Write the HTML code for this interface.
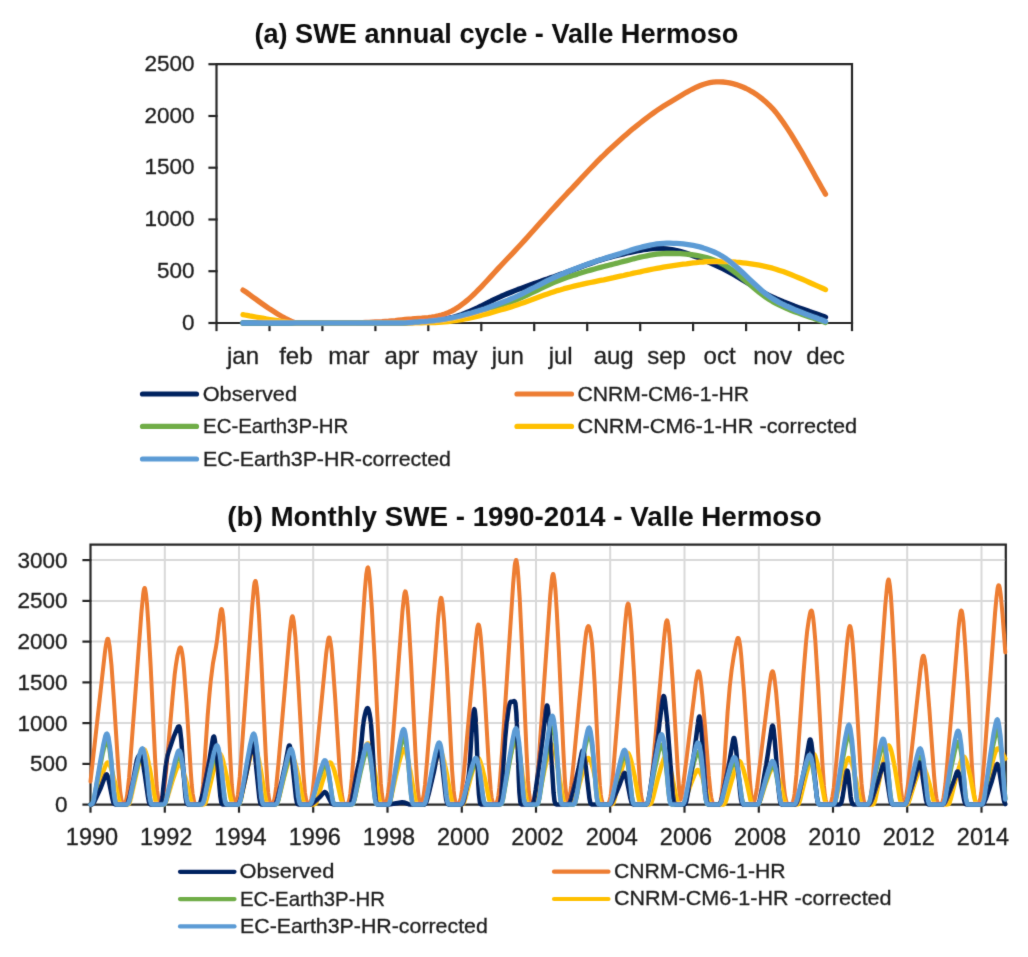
<!DOCTYPE html>
<html><head><meta charset="utf-8"><style>
html,body{margin:0;padding:0;background:#fff;}
svg{display:block;font-family:"Liberation Sans",sans-serif;}
text{stroke:#1e1e1e;stroke-width:0.3px;}
text[font-weight="bold"]{stroke:none;}
</style></head><body>
<svg width="1028" height="957" viewBox="0 0 1028 957">
<defs><filter id="bl" filterUnits="userSpaceOnUse" x="0" y="0" width="1028" height="957"><feConvolveMatrix order="3" kernelMatrix="0.01134 0.08382 0.01134 0.08382 0.61935 0.08382 0.01134 0.08382 0.01134" edgeMode="duplicate"/></filter></defs>
<rect width="1028" height="957" fill="#fff"/>
<g filter="url(#bl)">
<text x="496.4" y="42.7" font-size="27" font-weight="bold" fill="#0d0d0d" text-anchor="middle" textLength="484" lengthAdjust="spacingAndGlyphs">(a) SWE annual cycle - Valle Hermoso</text>
<g stroke="#262626" stroke-width="2.2" fill="none" stroke-linecap="square">
<path d="M216.5,64.2 H852.0 V323.0 H216.5 Z"/>
<path d="M209.5,323.0 H216.5"/>
<path d="M209.5,271.2 H216.5"/>
<path d="M209.5,219.5 H216.5"/>
<path d="M209.5,167.7 H216.5"/>
<path d="M209.5,116.0 H216.5"/>
<path d="M209.5,64.2 H216.5"/>
<path d="M216.5,323.0 V330.0"/>
<path d="M269.5,323.0 V330.0"/>
<path d="M322.4,323.0 V330.0"/>
<path d="M375.4,323.0 V330.0"/>
<path d="M428.3,323.0 V330.0"/>
<path d="M481.3,323.0 V330.0"/>
<path d="M534.2,323.0 V330.0"/>
<path d="M587.2,323.0 V330.0"/>
<path d="M640.2,323.0 V330.0"/>
<path d="M693.1,323.0 V330.0"/>
<path d="M746.1,323.0 V330.0"/>
<path d="M799.0,323.0 V330.0"/>
<path d="M852.0,323.0 V330.0"/>
</g>
<g font-size="22.5" fill="#1e1e1e" text-anchor="end">
<text x="194.5" y="329.6">0</text>
<text x="194.5" y="277.8">500</text>
<text x="194.5" y="226.1">1000</text>
<text x="194.5" y="174.3">1500</text>
<text x="194.5" y="122.6">2000</text>
<text x="194.5" y="70.8">2500</text>
</g>
<g font-size="24" fill="#1e1e1e" text-anchor="middle">
<text x="243.0" y="364.2">jan</text>
<text x="295.9" y="364.2">feb</text>
<text x="348.9" y="364.2">mar</text>
<text x="401.9" y="364.2">apr</text>
<text x="454.8" y="364.2">may</text>
<text x="507.8" y="364.2">jun</text>
<text x="560.7" y="364.2">jul</text>
<text x="613.7" y="364.2">aug</text>
<text x="666.6" y="364.2">sep</text>
<text x="719.6" y="364.2">oct</text>
<text x="772.6" y="364.2">nov</text>
<text x="825.5" y="364.2">dec</text>
</g>
<g fill="none" stroke-width="5.3" stroke-linecap="round" stroke-linejoin="round">
<path stroke="#002060" d="M243.0,323.0 244.8,323.0 247.1,323.0 249.6,323.0 252.5,323.0 255.6,323.0 259.0,323.0 262.5,323.0 266.1,323.0 269.9,323.0 273.8,323.0 277.6,323.0 281.5,323.0 285.3,323.0 289.0,323.0 292.5,323.0 295.9,323.0 299.2,323.0 302.6,323.0 305.9,323.0 309.2,323.0 312.5,323.0 315.8,323.0 319.1,323.0 322.4,323.0 325.7,323.0 329.0,323.0 332.3,323.0 335.7,323.0 339.0,323.0 342.3,323.0 345.6,323.0 348.9,323.0 352.2,323.0 355.5,323.0 358.8,323.0 362.1,323.0 365.4,323.0 368.8,323.0 372.1,323.0 375.4,323.0 378.7,323.0 382.0,323.0 385.3,323.0 388.6,323.0 391.9,323.0 395.2,323.0 398.5,323.0 401.9,323.0 405.2,322.8 408.5,322.6 411.8,322.5 415.1,322.3 418.4,322.1 421.7,321.9 425.0,321.6 428.3,321.4 431.6,321.0 435.0,320.6 438.3,320.2 441.6,319.7 444.9,319.1 448.2,318.4 451.5,317.7 454.8,316.8 458.1,315.8 461.4,314.7 464.7,313.4 468.1,312.1 471.4,310.6 474.7,309.1 478.0,307.6 481.3,306.0 484.6,304.3 487.9,302.7 491.2,301.0 494.5,299.4 497.8,297.9 501.2,296.3 504.5,294.9 507.8,293.5 511.1,292.2 514.4,290.9 517.7,289.6 521.0,288.4 524.3,287.2 527.6,286.0 530.9,284.8 534.3,283.6 537.6,282.4 540.9,281.3 544.2,280.1 547.5,279.0 550.8,277.8 554.1,276.7 557.4,275.5 560.7,274.3 564.0,273.2 567.3,272.0 570.7,270.7 574.0,269.5 577.3,268.2 580.6,267.0 583.9,265.8 587.2,264.6 590.5,263.4 593.8,262.2 597.1,261.1 600.4,260.0 603.8,258.9 607.1,258.0 610.4,257.1 613.7,256.2 617.0,255.4 620.3,254.6 623.6,253.8 626.9,253.0 630.2,252.3 633.5,251.6 636.9,250.9 640.2,250.3 643.5,249.7 646.8,249.3 650.1,248.9 653.4,248.7 656.7,248.5 660.0,248.5 663.3,248.6 666.6,248.9 670.0,249.3 673.3,249.9 676.6,250.5 679.9,251.4 683.2,252.3 686.5,253.3 689.8,254.4 693.1,255.7 696.4,256.9 699.7,258.3 703.1,259.7 706.4,261.1 709.7,262.6 713.0,264.1 716.3,265.6 719.6,267.1 722.9,268.7 726.2,270.4 729.5,272.1 732.8,274.0 736.2,275.9 739.5,277.9 742.8,280.0 746.1,282.0 749.4,284.0 752.7,286.1 756.0,288.1 759.3,290.0 762.6,291.9 765.9,293.8 769.3,295.5 772.6,297.1 776.0,298.7 779.5,300.2 783.2,301.8 787.0,303.3 790.9,304.8 794.7,306.3 798.6,307.7 802.4,309.0 806.0,310.3 809.5,311.6 812.9,312.7 816.0,313.8 818.9,314.8 821.4,315.7 823.7,316.5 825.5,317.2"/>
<path stroke="#ED7D31" d="M243.0,290.1 244.8,291.3 247.1,292.8 249.6,294.7 252.5,296.8 255.6,299.0 259.0,301.5 262.5,304.0 266.1,306.5 269.9,309.1 273.8,311.6 277.6,314.0 281.5,316.3 285.3,318.4 289.0,320.2 292.5,321.8 295.9,323.0 299.2,323.0 302.6,323.0 305.9,323.0 309.2,323.0 312.5,323.0 315.8,323.0 319.1,323.0 322.4,323.0 325.7,323.0 329.0,323.0 332.3,323.0 335.7,323.0 339.0,323.0 342.3,323.0 345.6,323.0 348.9,323.0 352.2,322.9 355.5,322.8 358.8,322.7 362.1,322.6 365.4,322.5 368.8,322.4 372.1,322.2 375.4,322.0 378.7,321.9 382.0,321.7 385.3,321.4 388.6,321.2 391.9,320.9 395.2,320.6 398.5,320.2 401.9,319.8 405.2,319.4 408.5,319.1 411.8,318.9 415.1,318.6 418.4,318.4 421.7,318.2 425.0,317.9 428.3,317.6 431.6,317.1 435.0,316.5 438.3,315.8 441.6,315.0 444.9,313.9 448.2,312.6 451.5,311.1 454.8,309.3 458.1,307.3 461.4,304.9 464.7,302.4 468.1,299.6 471.4,296.6 474.7,293.5 478.0,290.2 481.3,286.8 484.6,283.3 487.9,279.7 491.2,276.1 494.5,272.5 497.8,268.9 501.2,265.3 504.5,261.8 507.8,258.3 511.1,254.9 514.4,251.4 517.7,247.8 521.0,244.2 524.3,240.6 527.6,236.9 530.9,233.2 534.3,229.5 537.6,225.8 540.9,222.1 544.2,218.4 547.5,214.8 550.8,211.1 554.1,207.5 557.4,203.9 560.7,200.3 564.0,196.8 567.3,193.2 570.7,189.7 574.0,186.1 577.3,182.6 580.6,179.0 583.9,175.5 587.2,172.0 590.5,168.5 593.8,165.1 597.1,161.7 600.4,158.3 603.8,155.1 607.1,151.8 610.4,148.7 613.7,145.7 617.0,142.7 620.3,139.7 623.6,136.8 626.9,133.9 630.2,131.1 633.5,128.3 636.9,125.6 640.2,123.0 643.5,120.4 646.8,117.8 650.1,115.4 653.4,113.0 656.7,110.7 660.0,108.4 663.3,106.3 666.6,104.3 670.0,102.2 673.3,100.2 676.6,98.2 679.9,96.2 683.2,94.2 686.5,92.3 689.8,90.5 693.1,88.8 696.4,87.2 699.7,85.8 703.1,84.5 706.4,83.5 709.7,82.7 713.0,82.1 716.3,81.8 719.6,81.8 722.9,82.0 726.2,82.4 729.5,82.9 732.8,83.7 736.2,84.6 739.5,85.7 742.8,87.0 746.1,88.5 749.4,90.2 752.7,92.1 756.0,94.2 759.3,96.6 762.6,99.2 765.9,102.1 769.3,105.2 772.6,108.6 776.0,112.5 779.5,117.1 783.2,122.2 787.0,127.9 790.9,133.9 794.7,140.1 798.6,146.6 802.4,153.0 806.0,159.5 809.5,165.7 812.9,171.7 816.0,177.4 818.9,182.5 821.4,187.1 823.7,191.0 825.5,194.1"/>
<path stroke="#70AD47" d="M243.0,323.0 244.8,323.0 247.1,323.0 249.6,323.0 252.5,323.0 255.6,323.0 259.0,323.0 262.5,323.0 266.1,323.0 269.9,323.0 273.8,323.0 277.6,323.0 281.5,323.0 285.3,323.0 289.0,323.0 292.5,323.0 295.9,323.0 299.2,323.0 302.6,323.0 305.9,323.0 309.2,323.0 312.5,323.0 315.8,323.0 319.1,323.0 322.4,323.0 325.7,323.0 329.0,323.0 332.3,323.0 335.7,323.0 339.0,323.0 342.3,323.0 345.6,323.0 348.9,323.0 352.2,323.0 355.5,323.0 358.8,323.0 362.1,323.0 365.4,323.0 368.8,323.0 372.1,323.0 375.4,323.0 378.7,323.0 382.0,323.0 385.3,323.0 388.6,323.0 391.9,323.0 395.2,323.0 398.5,323.0 401.9,323.0 405.2,322.9 408.5,322.7 411.8,322.6 415.1,322.4 418.4,322.2 421.7,322.0 425.0,321.8 428.3,321.6 431.6,321.3 435.0,321.1 438.3,320.7 441.6,320.3 444.9,319.9 448.2,319.5 451.5,318.9 454.8,318.3 458.1,317.7 461.4,317.0 464.7,316.3 468.1,315.5 471.4,314.7 474.7,313.8 478.0,313.0 481.3,312.0 484.6,311.1 487.9,310.0 491.2,309.0 494.5,307.9 497.8,306.8 501.2,305.7 504.5,304.5 507.8,303.3 511.1,302.1 514.4,300.7 517.7,299.3 521.0,297.9 524.3,296.3 527.6,294.8 530.9,293.2 534.3,291.6 537.6,290.0 540.9,288.4 544.2,286.8 547.5,285.3 550.8,283.8 554.1,282.4 557.4,281.0 560.7,279.7 564.0,278.5 567.3,277.3 570.7,276.2 574.0,275.1 577.3,274.1 580.6,273.0 583.9,272.0 587.2,271.0 590.5,270.1 593.8,269.2 597.1,268.3 600.4,267.4 603.8,266.5 607.1,265.7 610.4,264.8 613.7,264.0 617.0,263.2 620.3,262.3 623.6,261.4 626.9,260.6 630.2,259.7 633.5,258.8 636.9,258.0 640.2,257.2 643.5,256.5 646.8,255.8 650.1,255.2 653.4,254.7 656.7,254.2 660.0,253.9 663.3,253.7 666.6,253.5 670.0,253.5 673.3,253.5 676.6,253.6 679.9,253.7 683.2,253.9 686.5,254.1 689.8,254.5 693.1,254.9 696.4,255.4 699.7,256.0 703.1,256.8 706.4,257.6 709.7,258.6 713.0,259.7 716.3,261.0 719.6,262.4 722.9,264.1 726.2,266.0 729.5,268.2 732.8,270.5 736.2,273.0 739.5,275.7 742.8,278.4 746.1,281.3 749.4,284.1 752.7,286.9 756.0,289.7 759.3,292.4 762.6,294.9 765.9,297.3 769.3,299.6 772.6,301.6 776.0,303.4 779.5,305.2 783.2,306.9 787.0,308.6 790.9,310.2 794.7,311.7 798.6,313.1 802.4,314.5 806.0,315.8 809.5,317.0 812.9,318.1 816.0,319.2 818.9,320.1 821.4,321.0 823.7,321.8 825.5,322.5"/>
<path stroke="#FFC000" d="M243.0,314.7 244.8,315.0 247.1,315.4 249.6,315.9 252.5,316.4 255.6,317.0 259.0,317.6 262.5,318.2 266.1,318.9 269.9,319.5 273.8,320.1 277.6,320.7 281.5,321.3 285.3,321.8 289.0,322.3 292.5,322.7 295.9,323.0 299.2,323.0 302.6,323.0 305.9,323.0 309.2,323.0 312.5,323.0 315.8,323.0 319.1,323.0 322.4,323.0 325.7,323.0 329.0,323.0 332.3,323.0 335.7,323.0 339.0,323.0 342.3,323.0 345.6,323.0 348.9,323.0 352.2,323.0 355.5,323.0 358.8,323.0 362.1,323.0 365.4,323.0 368.8,323.0 372.1,323.0 375.4,323.0 378.7,323.0 382.0,323.0 385.3,323.0 388.6,323.0 391.9,323.0 395.2,323.0 398.5,323.0 401.9,323.0 405.2,322.9 408.5,322.9 411.8,322.9 415.1,322.8 418.4,322.8 421.7,322.8 425.0,322.7 428.3,322.7 431.6,322.6 435.0,322.5 438.3,322.3 441.6,322.1 444.9,321.8 448.2,321.5 451.5,321.2 454.8,320.7 458.1,320.2 461.4,319.7 464.7,319.0 468.1,318.4 471.4,317.7 474.7,316.9 478.0,316.1 481.3,315.3 484.6,314.4 487.9,313.6 491.2,312.6 494.5,311.7 497.8,310.8 501.2,309.8 504.5,308.9 507.8,307.9 511.1,306.9 514.4,305.8 517.7,304.7 521.0,303.6 524.3,302.4 527.6,301.2 530.9,300.0 534.3,298.7 537.6,297.5 540.9,296.3 544.2,295.1 547.5,293.9 550.8,292.8 554.1,291.7 557.4,290.6 560.7,289.7 564.0,288.7 567.3,287.9 570.7,287.0 574.0,286.2 577.3,285.4 580.6,284.7 583.9,283.9 587.2,283.2 590.5,282.5 593.8,281.8 597.1,281.1 600.4,280.4 603.8,279.8 607.1,279.1 610.4,278.4 613.7,277.7 617.0,276.9 620.3,276.2 623.6,275.5 626.9,274.7 630.2,274.0 633.5,273.2 636.9,272.5 640.2,271.8 643.5,271.0 646.8,270.3 650.1,269.7 653.4,269.0 656.7,268.4 660.0,267.8 663.3,267.2 666.6,266.7 670.0,266.2 673.3,265.7 676.6,265.2 679.9,264.7 683.2,264.2 686.5,263.8 689.8,263.3 693.1,262.9 696.4,262.6 699.7,262.2 703.1,262.0 706.4,261.7 709.7,261.6 713.0,261.4 716.3,261.4 719.6,261.4 722.9,261.5 726.2,261.6 729.5,261.7 732.8,261.9 736.2,262.2 739.5,262.4 742.8,262.8 746.1,263.2 749.4,263.6 752.7,264.1 756.0,264.6 759.3,265.2 762.6,265.9 765.9,266.6 769.3,267.4 772.6,268.2 776.0,269.2 779.5,270.4 783.2,271.6 787.0,273.0 790.9,274.5 794.7,276.1 798.6,277.7 802.4,279.3 806.0,280.9 809.5,282.5 812.9,284.0 816.0,285.4 818.9,286.7 821.4,287.8 823.7,288.8 825.5,289.6"/>
<path stroke="#5B9BD5" d="M243.0,323.0 244.8,323.0 247.1,323.0 249.6,323.0 252.5,323.0 255.6,323.0 259.0,323.0 262.5,323.0 266.1,323.0 269.9,323.0 273.8,323.0 277.6,323.0 281.5,323.0 285.3,323.0 289.0,323.0 292.5,323.0 295.9,323.0 299.2,323.0 302.6,323.0 305.9,323.0 309.2,323.0 312.5,323.0 315.8,323.0 319.1,323.0 322.4,323.0 325.7,323.0 329.0,323.0 332.3,323.0 335.7,323.0 339.0,323.0 342.3,323.0 345.6,323.0 348.9,323.0 352.2,323.0 355.5,323.0 358.8,323.0 362.1,323.0 365.4,323.0 368.8,323.0 372.1,323.0 375.4,323.0 378.7,323.0 382.0,323.0 385.3,323.0 388.6,323.0 391.9,323.0 395.2,323.0 398.5,323.0 401.9,323.0 405.2,322.8 408.5,322.6 411.8,322.4 415.1,322.2 418.4,322.0 421.7,321.7 425.0,321.5 428.3,321.2 431.6,320.8 435.0,320.5 438.3,320.0 441.6,319.6 444.9,319.1 448.2,318.5 451.5,317.9 454.8,317.2 458.1,316.5 461.4,315.7 464.7,314.8 468.1,313.9 471.4,313.0 474.7,312.0 478.0,311.0 481.3,310.0 484.6,308.9 487.9,307.7 491.2,306.5 494.5,305.3 497.8,304.1 501.2,302.8 504.5,301.5 507.8,300.2 511.1,298.8 514.4,297.4 517.7,295.9 521.0,294.3 524.3,292.6 527.6,290.9 530.9,289.2 534.3,287.5 537.6,285.8 540.9,284.1 544.2,282.4 547.5,280.7 550.8,279.1 554.1,277.5 557.4,276.0 560.7,274.6 564.0,273.2 567.3,271.8 570.7,270.5 574.0,269.2 577.3,267.9 580.6,266.7 583.9,265.4 587.2,264.3 590.5,263.1 593.8,261.9 597.1,260.8 600.4,259.7 603.8,258.7 607.1,257.6 610.4,256.6 613.7,255.6 617.0,254.6 620.3,253.6 623.6,252.5 626.9,251.5 630.2,250.4 633.5,249.4 636.9,248.4 640.2,247.5 643.5,246.6 646.8,245.8 650.1,245.1 653.4,244.5 656.7,243.9 660.0,243.6 663.3,243.3 666.6,243.2 670.0,243.2 673.3,243.3 676.6,243.4 679.9,243.6 683.2,243.9 686.5,244.3 689.8,244.8 693.1,245.4 696.4,246.1 699.7,246.9 703.1,247.9 706.4,249.0 709.7,250.2 713.0,251.5 716.3,253.0 719.6,254.7 722.9,256.6 726.2,258.8 729.5,261.2 732.8,263.9 736.2,266.7 739.5,269.7 742.8,272.8 746.1,275.9 749.4,279.1 752.7,282.2 756.0,285.3 759.3,288.3 762.6,291.2 765.9,293.9 769.3,296.3 772.6,298.6 776.0,300.6 779.5,302.6 783.2,304.5 787.0,306.3 790.9,308.0 794.7,309.7 798.6,311.3 802.4,312.8 806.0,314.2 809.5,315.5 812.9,316.7 816.0,317.8 818.9,318.9 821.4,319.8 823.7,320.7 825.5,321.4"/>
</g>
<path d="M142.5,394.0 H196.5" stroke="#002060" stroke-width="5.2" stroke-linecap="round"/>
<text x="202.70" y="401.00" font-size="21.00" fill="#1e1e1e" textLength="94.31" lengthAdjust="spacingAndGlyphs">Observed</text>
<path d="M142.5,426.4 H196.5" stroke="#70AD47" stroke-width="5.2" stroke-linecap="round"/>
<text x="203.00" y="433.00" font-size="21.00" fill="#1e1e1e" textLength="145.36" lengthAdjust="spacingAndGlyphs">EC-Earth3P-HR</text>
<path d="M142.5,459.0 H196.5" stroke="#5B9BD5" stroke-width="5.2" stroke-linecap="round"/>
<text x="203.00" y="465.60" font-size="21.00" fill="#1e1e1e" textLength="247.89" lengthAdjust="spacingAndGlyphs">EC-Earth3P-HR-corrected</text>
<path d="M517.0,394.0 H571.5" stroke="#ED7D31" stroke-width="5.2" stroke-linecap="round"/>
<text x="577.50" y="401.20" font-size="21.00" fill="#1e1e1e" textLength="171.51" lengthAdjust="spacingAndGlyphs">CNRM-CM6-1-HR</text>
<path d="M517.0,426.4 H571.5" stroke="#FFC000" stroke-width="5.2" stroke-linecap="round"/>
<text x="577.50" y="433.40" font-size="21.00" fill="#1e1e1e" textLength="279.60" lengthAdjust="spacingAndGlyphs">CNRM-CM6-1-HR -corrected</text>
<text x="524.5" y="525.5" font-size="27" font-weight="bold" fill="#0d0d0d" text-anchor="middle" textLength="594.5" lengthAdjust="spacingAndGlyphs">(b) Monthly SWE - 1990-2014 - Valle Hermoso</text>
<g stroke="#d9d9d9" stroke-width="2" fill="none">
<path d="M90.5,763.9 H1005.8"/>
<path d="M90.5,723.1 H1005.8"/>
<path d="M90.5,682.4 H1005.8"/>
<path d="M90.5,641.6 H1005.8"/>
<path d="M90.5,600.9 H1005.8"/>
<path d="M90.5,560.1 H1005.8"/>
<path d="M164.8,544.6 V804.6"/>
<path d="M239.0,544.6 V804.6"/>
<path d="M313.2,544.6 V804.6"/>
<path d="M387.5,544.6 V804.6"/>
<path d="M461.8,544.6 V804.6"/>
<path d="M536.0,544.6 V804.6"/>
<path d="M610.2,544.6 V804.6"/>
<path d="M684.5,544.6 V804.6"/>
<path d="M758.8,544.6 V804.6"/>
<path d="M833.0,544.6 V804.6"/>
<path d="M907.2,544.6 V804.6"/>
<path d="M981.5,544.6 V804.6"/>
</g>
<g stroke="#262626" stroke-width="2.2" fill="none" stroke-linecap="square">
<path d="M90.5,544.6 H1005.8 V804.6 H90.5 Z"/>
<path d="M83.5,804.6 H90.5"/>
<path d="M83.5,763.9 H90.5"/>
<path d="M83.5,723.1 H90.5"/>
<path d="M83.5,682.4 H90.5"/>
<path d="M83.5,641.6 H90.5"/>
<path d="M83.5,600.9 H90.5"/>
<path d="M83.5,560.1 H90.5"/>
<path d="M90.5,804.6 V811.6"/>
<path d="M164.8,804.6 V811.6"/>
<path d="M239.0,804.6 V811.6"/>
<path d="M313.2,804.6 V811.6"/>
<path d="M387.5,804.6 V811.6"/>
<path d="M461.8,804.6 V811.6"/>
<path d="M536.0,804.6 V811.6"/>
<path d="M610.2,804.6 V811.6"/>
<path d="M684.5,804.6 V811.6"/>
<path d="M758.8,804.6 V811.6"/>
<path d="M833.0,804.6 V811.6"/>
<path d="M907.2,804.6 V811.6"/>
<path d="M981.5,804.6 V811.6"/>
</g>
<defs><clipPath id="cb"><rect x="85.5" y="539.6" width="925.3" height="270.0"/></clipPath></defs>
<g fill="none" stroke-linecap="round" stroke-linejoin="round" clip-path="url(#cb)">
<path stroke="#ED7D31" stroke-width="4.0" d="M90.5,781.5 104.7,654.3 105.6,647.2 106.5,641.7 107.2,639.5 107.5,638.9 107.8,638.7 108.1,639.0 108.7,640.7 109.6,646.3 111.5,665.4 113.9,699.7 118.3,768.5 120.1,791.1 121.4,799.5 122.0,801.8 122.6,803.2 123.5,804.2 123.8,804.3 124.1,804.1 125.1,803.1 126.0,800.8 126.9,796.5 127.5,792.4 129.1,777.4 141.4,612.6 143.3,593.3 143.9,589.6 144.5,588.1 144.8,588.1 145.1,588.8 146.0,594.1 147.0,603.9 148.2,621.8 150.7,666.9 155.0,757.2 156.5,783.0 157.1,790.4 158.1,797.9 159.0,801.9 159.6,803.3 160.2,804.0 160.8,803.7 161.5,802.8 162.4,800.4 163.3,796.0 164.2,789.6 166.4,768.3 172.6,697.0 174.7,674.5 176.0,664.6 177.5,655.4 179.1,649.3 179.7,647.9 180.3,647.3 180.9,647.8 181.2,648.5 182.1,652.6 183.1,659.6 184.0,669.2 186.5,702.8 190.8,772.2 191.7,784.3 192.6,793.5 193.9,800.7 194.5,802.5 195.4,803.9 196.0,804.3 196.9,804.5 198.8,804.3 199.7,803.6 200.6,801.8 201.3,799.4 201.9,795.9 203.1,784.5 207.7,715.1 209.3,696.1 210.8,680.4 213.0,663.1 215.8,648.2 217.0,640.4 220.1,614.6 221.0,609.9 221.3,609.2 221.6,609.0 221.9,609.4 222.2,610.3 223.2,616.7 224.7,637.7 226.6,674.0 230.3,758.1 231.8,784.8 232.7,794.7 233.7,800.4 234.3,802.5 234.9,803.6 235.2,803.8 236.1,802.5 237.1,799.5 238.0,794.3 239.8,776.5 252.2,606.3 254.0,586.3 254.6,582.6 255.3,581.0 255.6,581.0 255.9,581.7 256.8,587.2 257.7,597.3 259.0,615.9 261.4,662.4 265.8,755.6 267.3,782.3 268.2,792.9 269.1,799.4 270.1,802.7 270.7,803.7 271.6,804.3 272.2,804.0 272.8,803.3 273.5,802.1 274.1,800.3 275.0,795.9 276.2,786.7 278.4,764.2 289.5,634.3 291.1,620.8 291.7,617.6 292.3,616.3 292.6,616.3 292.9,616.9 293.8,621.5 295.4,637.4 298.1,679.5 303.4,773.3 304.9,792.2 305.6,797.0 306.5,801.4 307.4,803.5 308.3,804.3 309.3,803.8 309.9,803.0 310.8,800.8 311.4,798.4 312.7,791.1 315.1,768.7 326.2,653.4 327.8,641.4 328.4,638.6 329.0,637.4 329.3,637.4 329.6,637.9 330.5,642.0 331.5,649.6 332.7,663.5 335.2,698.3 339.8,772.5 340.7,784.6 341.7,793.6 342.9,800.7 343.5,802.5 344.1,803.6 344.7,804.2 345.4,804.4 346.6,804.4 347.5,803.8 348.4,802.3 349.4,799.2 350.3,793.7 351.8,778.7 354.0,749.6 364.8,591.2 366.3,574.0 367.3,568.4 367.6,567.6 367.9,567.4 368.2,567.8 368.8,570.4 369.7,578.2 371.9,608.9 374.7,660.4 379.3,757.4 380.8,783.2 381.8,793.4 382.7,799.6 383.6,802.7 384.2,803.7 384.8,804.1 385.5,803.6 386.1,802.6 386.7,800.9 387.3,798.3 388.2,792.5 389.5,781.2 391.6,754.9 402.4,611.8 404.0,596.5 404.6,592.9 405.2,591.4 405.5,591.5 405.8,592.1 406.8,597.4 407.7,607.0 408.9,624.7 411.1,663.0 415.4,751.9 416.9,779.1 417.6,787.2 418.5,795.9 419.1,799.6 420.0,802.7 420.6,803.7 420.9,803.9 421.9,802.6 422.5,801.0 423.7,795.0 425.0,785.0 427.1,760.3 438.2,617.7 439.8,602.9 440.4,599.4 441.0,597.9 441.3,598.0 441.6,598.6 442.5,603.7 444.1,621.1 446.9,667.4 452.1,770.3 453.7,791.0 454.3,796.2 455.2,801.1 456.1,803.4 457.0,804.2 457.4,804.4 458.0,804.2 458.6,803.7 459.2,802.9 460.1,800.5 460.8,797.9 462.0,790.0 464.5,766.0 475.6,641.9 477.1,629.0 477.7,626.0 478.3,624.6 478.6,624.7 479.0,625.2 479.9,629.7 480.8,637.8 482.0,652.7 484.5,690.2 488.8,765.2 490.7,789.9 491.6,797.3 492.2,800.4 492.8,802.4 493.8,803.9 494.7,804.4 495.6,804.0 496.5,802.9 497.5,800.3 498.4,795.5 499.3,787.9 500.2,777.7 502.4,747.5 513.2,583.3 514.7,565.7 515.4,561.6 516.0,559.9 516.3,559.9 516.6,560.7 517.5,566.7 518.4,577.8 519.7,598.0 522.1,649.0 526.5,751.0 528.0,780.2 528.9,791.8 529.9,798.9 530.8,802.5 531.4,803.6 532.3,804.3 532.9,803.8 533.6,803.0 534.2,801.6 534.8,799.3 535.7,793.9 537.0,782.7 539.1,755.1 550.2,596.0 551.8,579.5 552.4,575.6 553.0,574.0 553.3,574.0 553.6,574.7 554.5,580.4 555.5,590.8 556.7,609.9 558.9,651.5 563.2,747.6 564.7,777.0 565.3,785.8 566.3,795.2 566.9,799.2 567.8,802.6 568.1,802.4 568.4,801.6 569.4,798.2 570.3,792.9 571.2,785.8 573.4,764.6 584.5,646.3 586.3,631.7 587.3,627.7 587.6,626.9 588.2,626.1 588.8,626.4 589.4,627.6 590.6,632.7 591.9,642.2 592.8,653.0 594.7,684.1 598.7,766.9 599.9,785.4 600.8,794.7 601.4,798.7 602.1,801.4 602.7,803.0 603.6,804.1 604.2,804.4 605.5,804.6 606.7,804.5 607.6,804.1 608.5,803.2 609.5,801.1 610.4,797.1 611.0,793.2 612.6,779.3 624.9,626.3 626.7,608.4 627.4,605.0 628.0,603.5 628.3,603.6 628.6,604.2 629.5,609.2 630.4,618.3 631.7,634.9 634.2,676.7 638.5,760.6 640.0,784.6 640.9,794.1 641.9,799.9 642.5,802.1 643.1,803.4 644.0,804.3 644.9,804.5 646.2,804.3 647.1,803.7 647.7,802.8 648.3,801.4 649.6,796.1 650.8,787.1 653.0,765.1 664.1,638.1 665.6,624.8 666.2,621.7 666.9,620.4 667.2,620.5 667.5,621.0 668.4,625.6 669.3,633.9 670.2,645.0 672.7,682.3 678.0,774.0 679.2,789.6 680.4,798.9 680.7,799.6 681.7,795.5 683.5,783.3 695.9,681.7 697.4,673.1 698.0,671.5 698.3,671.2 698.6,671.2 699.3,672.4 700.2,676.7 701.1,683.4 702.3,695.1 704.8,723.6 708.8,775.4 710.4,791.3 711.3,797.6 712.2,801.5 712.8,803.0 713.4,803.8 714.4,804.4 715.3,804.5 718.1,804.4 719.0,804.0 719.6,803.3 720.2,802.0 720.9,799.8 721.8,794.4 722.7,785.8 723.6,774.4 727.6,712.2 729.8,686.1 731.6,670.2 733.8,655.8 736.3,642.5 737.2,639.2 737.8,638.0 738.1,637.9 738.4,638.1 738.7,638.7 739.4,641.0 740.3,646.9 741.2,655.6 744.0,691.3 749.9,781.3 751.4,796.1 752.3,800.8 753.2,803.2 754.2,801.5 755.1,798.4 757.0,787.8 769.3,686.3 771.1,674.4 771.8,672.2 772.4,671.2 772.7,671.2 773.0,671.6 773.9,674.9 774.8,680.9 776.1,692.0 778.5,719.8 783.2,779.0 784.1,788.6 785.0,795.8 786.3,801.5 786.9,803.0 787.8,804.1 788.7,804.5 789.7,804.6 791.2,804.2 792.1,803.5 793.0,801.5 794.0,797.7 794.6,793.7 796.4,775.0 803.5,673.1 806.0,642.5 807.2,630.9 808.8,619.7 810.0,613.3 810.6,611.3 811.3,610.5 811.6,610.7 811.9,611.1 812.2,612.0 813.1,617.0 814.0,625.3 815.3,640.5 818.0,684.2 822.4,763.2 823.9,785.7 824.8,794.7 825.8,800.2 826.4,802.3 827.0,803.5 827.6,804.1 828.5,804.5 829.5,804.2 830.4,803.4 831.0,802.3 831.6,800.5 832.5,796.3 833.8,787.7 835.9,766.3 847.0,643.2 848.6,630.4 849.2,627.4 849.8,626.1 850.1,626.2 850.4,626.7 851.4,631.1 852.3,639.2 853.5,654.0 856.0,691.1 860.6,770.4 861.5,783.2 862.5,792.9 863.7,800.4 864.3,802.4 865.2,803.9 865.9,804.3 866.8,804.5 868.0,804.1 869.0,803.0 869.9,800.7 870.8,796.2 871.4,791.9 873.0,776.3 885.3,605.1 887.2,585.0 887.8,581.2 888.4,579.6 888.7,579.6 889.0,580.3 889.9,585.9 890.9,596.0 892.1,614.7 894.6,661.5 898.9,755.3 900.4,782.2 901.0,789.8 902.0,797.6 902.9,801.8 903.5,803.2 903.8,803.6 904.4,802.7 905.1,801.2 906.0,797.7 907.8,785.9 920.2,672.6 921.7,661.0 922.3,657.9 922.9,656.0 923.3,655.7 923.6,655.7 923.9,656.2 924.8,659.9 925.7,666.6 926.6,675.6 929.4,709.9 934.1,776.0 935.6,792.4 936.5,798.6 937.1,801.1 937.8,802.8 938.7,804.0 939.6,804.4 940.5,804.3 941.5,803.7 942.1,802.7 942.7,801.2 943.6,797.4 944.5,791.4 945.5,783.3 947.6,759.3 958.4,629.1 959.4,620.0 960.3,613.4 960.9,611.0 961.2,610.5 961.5,610.6 961.8,611.2 962.4,613.9 963.4,621.4 965.2,645.4 967.7,686.7 971.7,762.1 973.2,785.3 974.2,794.5 975.1,800.1 976.0,802.9 976.6,803.8 977.2,804.3 977.6,804.3 978.5,803.5 979.1,802.5 979.7,800.8 980.3,798.2 981.3,792.4 982.5,780.8 984.7,754.1 995.1,612.5 996.4,598.2 997.6,588.2 998.2,585.7 998.5,585.2 998.8,585.2 999.2,585.7 999.8,588.0 1000.7,594.4 1002.5,614.3 1005.3,652.3"/>
<path stroke="#FFC000" stroke-width="4.5" d="M90.5,804.6 91.7,804.5 92.7,804.0 93.6,802.8 94.2,801.4 100.4,780.5 103.8,770.0 106.2,763.9 107.2,762.7 107.8,762.5 108.7,763.1 109.6,764.7 110.9,767.8 112.1,771.6 114.9,782.2 118.6,798.9 119.8,802.7 120.7,804.1 122.0,804.5 127.2,804.6 128.1,804.3 128.8,803.8 129.7,802.2 130.9,798.1 136.5,772.9 140.5,756.8 142.3,751.0 143.3,749.4 143.9,749.2 144.8,750.0 145.7,752.1 147.0,756.2 148.2,761.2 150.4,771.8 154.4,795.5 155.6,801.2 156.2,802.9 156.8,803.9 157.8,804.5 159.3,804.6 162.7,804.6 163.9,804.4 164.9,803.7 165.8,802.2 167.0,798.9 172.6,780.4 175.7,771.2 178.1,765.3 179.1,764.1 179.7,763.9 180.6,764.6 181.5,766.1 182.8,769.1 184.0,772.8 186.8,783.0 190.5,799.1 191.4,802.1 192.0,803.4 192.9,804.3 194.2,804.6 202.8,804.6 204.4,804.1 205.0,803.5 205.6,802.4 206.8,798.6 212.4,775.4 216.4,760.6 218.2,755.3 219.2,753.8 219.8,753.6 220.7,754.4 221.6,756.3 222.9,760.0 224.1,764.7 226.9,777.5 230.6,797.8 231.8,802.4 232.7,803.9 233.7,804.5 237.1,804.6 238.6,804.3 239.2,803.8 239.8,802.8 241.1,799.0 247.2,769.8 251.3,753.0 253.1,747.4 253.7,746.4 254.3,746.2 254.6,746.3 255.3,747.1 256.2,749.3 257.4,753.6 258.7,758.9 260.8,770.0 264.8,795.0 266.1,801.0 266.7,802.8 267.3,803.9 268.2,804.5 269.5,804.6 275.6,804.4 276.6,803.9 277.5,802.5 279.0,797.6 284.0,777.5 287.7,763.9 290.1,756.7 291.1,755.3 291.7,755.0 292.6,755.8 293.5,757.7 295.7,764.6 298.5,776.8 302.8,799.3 303.7,802.4 304.6,804.0 305.2,804.4 306.2,804.6 313.3,804.6 314.8,804.2 315.7,803.3 316.4,802.1 317.3,799.6 322.8,780.5 326.5,769.1 328.7,763.9 329.6,762.7 330.2,762.5 331.2,763.1 332.1,764.7 333.3,767.8 334.6,771.6 337.3,782.2 341.0,798.9 342.3,802.7 343.2,804.1 344.4,804.5 350.6,804.6 352.1,804.3 352.8,803.7 353.4,802.7 354.6,798.7 360.8,768.0 364.8,750.5 366.6,744.5 367.3,743.5 367.9,743.2 368.2,743.4 368.8,744.2 369.7,746.5 371.0,751.0 372.2,756.6 374.4,768.3 378.4,794.5 379.6,800.8 380.2,802.7 380.8,803.8 381.8,804.4 383.0,804.6 386.7,804.6 387.9,804.4 388.9,803.8 389.8,802.2 391.3,796.8 396.3,774.3 400.0,759.1 402.4,751.0 403.4,749.4 404.0,749.2 404.9,750.0 405.8,752.1 407.1,756.2 408.3,761.2 410.5,771.8 414.5,795.5 415.7,801.2 416.3,802.9 416.9,803.9 417.9,804.5 419.1,804.6 424.0,804.4 425.0,803.8 425.9,802.3 427.4,797.0 432.4,775.1 436.1,760.3 438.5,752.5 439.5,750.9 440.1,750.6 441.0,751.5 441.9,753.5 444.1,761.1 446.9,774.3 451.2,798.8 452.1,802.2 453.0,803.9 453.7,804.4 454.6,804.6 461.4,804.6 462.6,804.2 463.5,803.2 464.1,801.9 465.1,799.1 470.6,777.9 474.3,765.3 476.5,759.5 477.4,758.2 478.0,758.0 479.0,758.7 479.9,760.5 481.1,763.9 482.3,768.1 485.1,779.8 488.8,798.3 490.1,802.6 491.0,804.0 491.9,804.5 497.8,804.6 499.3,804.3 499.9,803.7 500.6,802.6 501.8,798.6 508.0,767.2 512.0,749.2 513.8,743.1 514.4,742.1 515.1,741.8 515.4,741.9 516.0,742.7 516.9,745.1 518.1,749.7 519.4,755.4 521.5,767.4 525.5,794.3 526.8,800.8 527.4,802.7 528.0,803.8 528.6,804.3 529.9,804.6 534.5,804.6 535.7,804.4 536.7,803.7 537.6,802.0 539.1,796.1 544.1,771.8 547.8,755.4 549.3,749.5 550.2,746.7 551.2,745.0 551.8,744.7 552.1,744.8 552.7,745.6 553.6,747.9 554.9,752.3 556.1,757.7 558.2,769.1 562.3,794.8 563.5,800.9 564.1,802.8 564.7,803.8 565.7,804.5 566.9,804.6 572.4,804.5 573.4,803.9 574.3,802.6 575.8,798.0 580.8,779.1 584.5,766.3 586.9,759.5 587.9,758.2 588.5,758.0 589.4,758.7 590.3,760.5 591.6,763.9 592.8,768.1 595.6,779.8 599.3,798.3 600.2,801.7 600.8,803.2 601.8,804.2 603.0,804.6 610.7,804.6 611.6,804.4 612.2,804.1 612.9,803.5 613.5,802.4 614.7,798.5 620.3,775.0 624.3,760.0 626.1,754.6 627.1,753.1 627.7,752.8 628.6,753.6 629.5,755.6 630.8,759.4 632.0,764.1 634.2,774.0 638.2,796.1 639.4,801.4 640.0,803.0 640.6,803.9 641.6,804.5 642.8,804.6 649.6,804.4 650.5,803.9 651.4,802.5 653.0,797.8 657.9,778.3 661.6,765.1 664.1,758.1 665.0,756.7 665.6,756.5 666.5,757.3 667.5,759.1 668.7,762.6 669.9,767.0 672.1,776.1 676.1,796.7 677.3,801.7 678.0,803.1 678.6,804.0 679.5,804.5 680.7,804.6 682.0,804.5 682.9,804.1 683.8,803.1 684.4,802.0 690.6,784.7 694.0,776.1 696.5,771.0 697.4,770.0 698.0,769.9 698.9,770.4 699.9,771.7 701.1,774.3 702.3,777.4 705.1,786.2 708.8,799.9 709.7,802.5 710.4,803.5 711.3,804.3 712.8,804.6 722.4,804.6 723.3,804.5 724.2,804.0 725.2,802.7 726.4,799.5 732.0,779.7 736.0,767.0 737.8,762.5 738.7,761.2 739.4,761.0 740.3,761.7 741.2,763.3 743.4,769.4 746.2,780.1 750.5,800.0 751.4,802.7 752.3,804.0 753.6,804.5 757.0,804.5 758.2,804.1 759.1,803.0 760.7,799.3 765.6,783.9 769.3,773.6 771.8,768.1 772.7,767.0 773.3,766.9 774.2,767.4 775.2,768.9 776.4,771.6 777.6,775.1 780.4,784.6 784.1,799.5 785.0,802.3 785.6,803.5 786.6,804.3 787.8,804.6 796.1,804.6 797.7,804.3 798.3,803.9 798.9,803.0 800.1,799.7 806.3,774.2 810.3,759.6 812.2,754.7 812.8,753.8 813.4,753.6 814.3,754.4 815.3,756.3 817.4,763.4 820.2,775.9 824.5,799.2 825.4,802.4 826.4,803.9 827.0,804.4 827.9,804.6 832.5,804.5 833.8,803.9 834.7,802.6 836.2,798.0 841.2,779.1 844.9,766.3 847.4,759.5 848.3,758.2 848.9,758.0 849.8,758.7 850.7,760.5 852.0,763.9 853.2,768.1 856.0,779.8 859.7,798.3 860.6,801.7 861.2,803.2 862.2,804.2 863.1,804.5 871.1,804.6 872.7,804.4 873.3,804.1 873.9,803.3 875.1,800.1 881.3,770.8 884.7,756.0 886.2,750.2 887.2,747.4 888.1,745.7 888.7,745.4 889.3,745.9 890.2,747.7 891.2,750.6 892.4,755.5 895.2,769.6 899.8,798.3 900.7,802.0 901.3,803.4 902.0,804.1 903.2,804.6 906.3,804.5 907.5,803.8 908.4,802.3 909.7,799.1 915.2,781.2 918.3,772.4 920.8,766.7 921.7,765.6 922.3,765.4 923.3,766.0 924.2,767.5 925.4,770.4 926.6,773.9 929.4,783.8 933.1,799.3 934.1,802.2 934.7,803.4 935.6,804.3 936.8,804.6 946.4,804.6 947.6,804.4 948.2,804.2 948.9,803.6 949.5,802.5 950.7,798.9 956.3,777.1 960.3,763.1 962.1,758.1 963.1,756.7 963.7,756.5 964.6,757.3 965.5,759.1 966.8,762.6 968.0,767.0 970.2,776.1 974.2,796.7 975.4,801.7 976.0,803.1 976.9,804.2 978.2,804.6 980.6,804.6 981.6,804.3 982.5,803.4 983.7,800.4 992.1,764.0 994.5,754.8 995.5,751.9 996.4,749.7 997.0,748.8 997.6,748.4 998.5,748.5 999.5,749.3 1002.2,753.0 1005.3,758.6"/>
<path stroke="#70AD47" stroke-width="4.5" d="M90.5,804.6 91.4,804.4 92.4,803.6 93.3,801.7 93.9,799.5 99.8,767.9 102.8,752.6 105.3,742.7 106.2,740.6 106.9,740.2 107.5,740.7 108.4,743.2 109.3,747.5 110.2,753.7 111.5,764.7 113.9,792.0 114.9,799.3 115.8,803.0 116.4,804.0 117.3,804.5 126.3,804.6 127.5,804.1 128.5,803.0 129.1,801.5 130.0,798.4 135.2,775.7 138.6,762.6 140.8,755.9 141.7,754.3 142.3,754.0 143.0,754.4 143.6,755.5 144.2,757.3 145.1,761.2 146.7,770.9 149.7,796.9 150.7,801.7 151.3,803.4 151.9,804.2 152.5,804.5 153.4,804.6 163.0,804.6 164.2,804.1 165.2,803.0 165.8,801.6 166.7,798.6 172.0,776.9 175.3,764.3 177.5,757.9 178.4,756.3 179.1,756.0 179.7,756.4 180.6,758.2 182.1,764.5 183.7,774.5 186.5,797.2 187.1,800.6 188.0,803.4 188.6,804.2 189.9,804.6 200.3,804.6 201.9,804.3 202.5,803.8 203.1,802.9 204.4,799.3 210.2,772.9 213.9,758.2 215.8,752.7 216.4,751.7 217.0,751.4 217.6,751.8 218.5,753.8 220.1,760.7 221.6,771.6 224.4,796.5 225.0,800.2 225.6,802.6 226.6,804.1 227.5,804.5 236.7,804.6 238.3,804.4 238.9,804.0 239.5,803.2 240.8,799.5 246.6,768.2 249.7,753.0 252.2,743.1 253.1,741.1 253.7,740.7 254.3,741.2 255.0,742.6 255.6,744.9 256.5,749.8 258.0,762.0 260.5,788.9 261.4,797.3 262.4,802.2 263.0,803.7 263.6,804.3 265.1,804.6 275.0,804.6 276.2,804.1 277.2,803.0 277.8,801.6 278.7,798.5 284.0,776.1 287.3,763.1 289.5,756.5 290.4,755.0 291.1,754.6 291.7,755.0 292.3,756.1 292.9,757.9 293.8,761.8 295.4,771.3 298.5,797.0 299.4,801.7 300.0,803.4 300.6,804.2 301.2,804.5 302.2,804.6 308.9,804.6 310.2,804.2 311.1,803.3 311.7,802.2 312.7,799.7 317.9,781.8 321.3,771.5 323.4,766.2 324.4,764.9 325.0,764.7 325.6,765.0 326.5,766.5 328.1,771.6 329.6,779.9 332.4,798.5 333.0,801.3 333.9,803.6 334.9,804.4 336.1,804.6 350.3,804.6 352.1,804.3 352.8,803.8 353.4,802.8 354.6,799.2 360.5,772.3 364.2,757.3 366.0,751.7 366.6,750.7 367.3,750.3 367.9,750.7 368.8,752.8 370.3,759.8 371.9,771.0 374.7,796.3 375.3,800.1 375.9,802.5 376.8,804.1 377.8,804.5 387.9,804.5 388.9,804.0 389.5,803.1 390.7,799.3 396.6,766.2 399.7,750.2 402.1,739.9 403.1,737.7 403.7,737.3 404.3,737.8 404.9,739.3 405.5,741.7 406.4,746.9 408.0,759.7 410.5,788.1 411.4,796.9 412.3,802.0 412.9,803.6 413.5,804.3 415.1,804.6 423.1,804.5 424.3,804.1 425.3,802.8 425.9,801.2 426.8,797.7 432.1,772.7 435.4,758.2 437.6,750.8 438.5,749.0 439.2,748.7 439.8,749.1 440.4,750.3 441.0,752.3 441.9,756.7 443.5,767.3 446.6,796.1 447.5,801.4 448.1,803.2 448.7,804.1 449.3,804.5 450.3,804.6 459.8,804.6 461.1,804.2 462.0,803.2 462.6,802.0 463.5,799.4 468.8,780.7 472.2,769.8 474.3,764.2 475.3,762.9 475.9,762.6 476.5,762.9 477.4,764.5 479.0,770.0 480.5,778.6 483.3,798.2 483.9,801.1 484.8,803.6 485.4,804.2 486.7,804.6 499.9,804.5 500.9,804.2 501.8,803.1 503.0,799.2 508.9,765.5 512.0,749.1 514.4,738.6 515.4,736.4 516.0,736.0 516.6,736.5 517.5,739.1 519.1,748.0 520.6,762.1 523.4,794.2 524.0,798.9 524.6,802.0 525.5,804.0 526.5,804.5 536.3,804.5 537.3,804.2 538.2,802.9 539.4,798.5 545.3,760.7 548.4,742.4 550.8,730.6 551.8,728.2 552.4,727.7 553.0,728.3 553.9,731.2 554.9,736.4 555.8,743.8 557.0,757.0 559.5,789.5 560.4,798.3 561.0,801.7 561.6,803.5 562.3,804.2 563.2,804.6 573.1,804.5 574.3,803.9 575.2,802.3 575.8,800.3 576.8,796.0 582.0,764.6 585.4,746.3 587.6,737.0 588.5,734.8 589.1,734.3 589.7,734.9 590.6,737.6 591.6,742.3 592.5,749.1 593.7,761.1 596.2,790.8 597.1,798.8 598.1,802.9 598.7,804.0 599.6,804.5 608.5,804.6 609.8,804.1 610.7,803.0 611.3,801.6 612.2,798.6 617.5,776.5 620.9,763.7 623.0,757.3 624.0,755.7 624.6,755.4 625.2,755.7 626.1,757.6 627.7,764.0 629.2,774.1 632.0,797.1 632.6,800.5 633.5,803.4 634.5,804.4 635.7,804.6 645.3,804.6 646.2,804.4 646.8,804.0 647.4,803.3 648.0,801.9 649.0,798.6 654.8,769.0 658.5,752.4 660.4,746.2 661.0,745.1 661.6,744.7 662.2,745.2 663.2,747.4 664.1,751.5 665.0,757.3 666.2,767.5 668.7,792.9 669.6,799.7 670.6,803.1 671.2,804.1 671.8,804.5 673.3,804.6 682.0,804.6 683.2,804.1 684.1,802.9 684.8,801.4 685.7,798.2 690.9,774.7 694.3,761.0 696.5,754.1 697.4,752.4 698.0,752.1 698.6,752.5 699.3,753.7 699.9,755.5 700.8,759.6 702.3,769.6 704.8,791.7 705.7,798.6 706.7,802.6 707.3,803.8 707.9,804.4 709.4,804.6 718.4,804.6 719.6,804.2 720.5,803.2 721.2,802.0 722.1,799.4 727.3,780.3 730.7,769.2 732.9,763.6 733.8,762.2 734.4,762.0 735.0,762.3 735.7,763.2 736.3,764.7 737.2,768.1 738.7,776.2 741.8,798.1 742.8,802.2 743.4,803.6 744.0,804.2 745.5,804.6 756.6,804.6 757.9,804.2 758.8,803.3 759.4,802.2 760.3,799.8 765.6,782.2 769.0,772.0 771.1,766.8 772.1,765.6 772.7,765.3 773.3,765.6 774.2,767.1 775.8,772.2 777.3,780.3 780.1,798.6 780.7,801.4 781.3,803.1 782.3,804.3 783.2,804.6 793.0,804.6 794.6,804.3 795.2,803.9 795.8,803.2 797.1,800.1 802.9,778.1 806.6,765.7 808.5,761.1 809.1,760.3 809.7,760.0 810.3,760.4 811.3,762.1 812.8,767.8 814.3,777.0 817.1,797.8 817.7,800.9 818.7,803.5 819.3,804.2 820.5,804.6 833.2,804.5 834.1,803.9 834.7,803.0 835.9,799.0 841.8,764.6 844.9,747.8 847.4,737.0 848.3,734.8 848.9,734.3 849.5,734.9 850.1,736.4 850.7,738.9 851.7,744.4 853.2,757.8 855.7,787.4 856.6,796.6 857.5,801.9 858.2,803.6 858.8,804.3 860.3,804.6 867.1,804.5 868.3,804.1 869.3,802.7 869.9,801.0 870.8,797.4 876.0,771.3 879.4,756.1 881.6,748.4 882.5,746.5 883.1,746.2 883.8,746.6 884.4,747.9 885.0,750.0 885.9,754.5 887.5,765.7 890.5,795.7 891.5,801.3 892.1,803.2 892.7,804.1 893.3,804.5 894.3,804.6 904.1,804.6 905.4,804.1 906.3,803.0 906.9,801.7 907.8,798.7 913.1,777.2 916.5,764.7 918.6,758.4 919.6,756.8 920.2,756.5 920.8,756.9 921.7,758.7 923.3,764.9 924.8,774.8 927.6,797.3 928.2,800.6 929.1,803.4 929.7,804.2 931.0,804.6 941.5,804.6 943.0,804.2 943.6,803.7 944.2,802.6 945.5,798.3 951.3,767.2 955.0,749.8 956.9,743.3 957.5,742.2 958.1,741.8 958.7,742.2 959.7,744.6 961.2,752.7 962.7,765.7 965.5,795.0 966.1,799.4 967.1,803.1 967.7,804.1 968.3,804.4 968.9,804.6 981.3,804.5 982.2,804.2 983.1,802.9 984.3,798.7 990.2,762.1 993.3,744.4 995.8,733.0 996.7,730.6 997.3,730.1 997.9,730.7 998.8,733.5 999.8,738.6 1000.7,745.7 1001.9,758.5 1004.4,790.0 1005.3,798.5"/>
<path stroke="#002060" stroke-width="4.5" d="M90.5,804.6 91.7,804.5 92.7,804.0 93.6,803.0 94.5,801.4 100.4,788.6 105.3,775.6 105.9,774.5 106.5,774.3 106.9,774.5 107.5,775.7 108.4,778.9 112.4,798.5 113.3,802.1 113.9,803.5 114.6,804.2 115.8,804.6 125.4,804.6 126.3,804.4 126.9,804.1 127.5,803.3 128.1,801.9 130.0,794.8 133.1,780.5 135.9,764.7 136.8,760.4 137.4,758.4 138.3,756.5 139.2,755.4 140.2,755.0 140.8,755.5 141.4,756.8 143.0,763.3 144.8,774.5 147.9,796.3 148.8,801.2 149.4,803.1 150.0,804.1 150.7,804.5 151.3,804.6 159.0,804.6 160.2,804.2 160.8,803.4 161.5,801.7 162.4,796.5 165.8,765.6 167.3,756.1 168.9,750.7 173.8,736.3 177.5,727.9 178.1,726.7 178.7,726.2 179.1,726.3 179.4,726.8 180.0,729.0 181.2,739.2 184.6,786.7 185.5,797.1 186.5,802.6 187.1,804.0 187.7,804.4 189.2,804.6 198.5,804.5 199.1,804.3 199.7,803.7 200.6,801.9 202.5,794.6 206.8,773.5 209.6,758.5 212.7,739.6 213.3,737.1 213.6,736.6 213.9,736.5 214.2,737.1 214.8,739.8 216.1,749.7 220.4,796.7 221.3,802.1 221.9,803.7 222.6,804.4 224.1,804.6 237.1,804.6 238.3,804.1 239.2,802.9 240.1,800.3 241.1,796.9 245.4,778.1 248.5,763.2 251.6,746.2 252.2,744.0 252.5,743.5 252.8,743.5 253.1,744.0 253.7,746.4 255.0,755.3 259.3,797.5 260.2,802.3 260.8,803.8 261.4,804.4 263.0,804.6 273.8,804.6 275.0,804.1 275.9,802.9 276.9,800.5 277.8,797.1 282.1,779.0 285.2,764.5 288.3,748.1 288.9,745.9 289.2,745.4 289.5,745.4 289.8,745.9 290.4,748.3 291.7,756.9 296.0,797.7 296.9,802.4 297.8,804.2 298.5,804.5 300.0,804.6 309.6,804.6 311.4,804.2 313.3,803.0 317.6,799.2 320.7,796.1 323.8,792.6 324.4,792.2 325.0,792.0 325.9,792.6 326.8,793.9 331.2,802.6 331.8,803.6 332.7,804.3 334.9,804.6 348.1,804.6 349.7,804.4 350.3,803.9 350.9,802.8 351.8,799.8 356.8,771.7 359.5,759.9 360.5,752.9 362.9,726.9 363.9,719.9 364.8,715.2 366.0,710.6 367.0,708.4 367.6,708.0 367.9,708.3 368.5,709.5 369.4,713.0 370.3,718.3 371.0,723.7 372.2,740.5 375.0,791.1 375.9,800.3 376.5,803.1 377.1,804.2 377.8,804.5 378.4,804.6 388.9,804.5 402.1,802.2 404.0,802.4 408.6,804.2 410.5,804.6 423.4,804.6 424.7,804.3 425.3,803.9 425.9,803.0 426.8,800.6 429.0,792.6 433.9,771.7 438.2,750.1 438.8,748.0 439.2,747.6 439.5,747.6 439.8,748.0 440.4,750.3 441.3,756.2 445.6,795.7 446.2,799.8 447.2,803.3 447.8,804.2 449.0,804.6 460.8,804.6 461.7,804.4 462.3,804.0 463.2,802.4 464.5,798.0 467.5,782.5 468.8,774.7 469.7,764.8 471.5,733.6 472.5,720.9 473.4,712.6 474.0,709.6 474.3,709.2 474.6,709.8 474.9,711.4 475.6,718.2 476.5,736.9 478.3,784.4 479.0,794.8 479.9,802.3 480.5,804.0 481.4,804.5 498.4,804.5 499.3,804.0 499.9,802.7 500.6,799.8 501.2,794.8 502.1,783.4 505.2,737.7 506.4,725.0 508.3,710.5 509.2,705.2 510.1,702.4 510.7,701.8 512.6,701.7 514.1,701.1 514.7,701.4 515.4,703.3 516.3,712.4 516.9,724.7 518.8,778.9 519.4,792.0 520.3,801.7 520.6,803.0 521.2,804.2 521.8,804.5 522.5,804.6 531.7,804.5 532.3,804.2 532.9,803.4 533.9,800.6 535.7,790.1 540.0,759.4 542.8,737.4 545.9,709.9 546.5,706.3 546.8,705.5 547.1,705.5 547.5,706.3 548.1,710.2 549.3,724.6 553.6,793.1 554.5,800.9 555.2,803.3 555.8,804.2 557.0,804.6 567.2,804.6 568.4,804.2 569.4,803.1 570.3,800.8 571.2,797.8 575.5,781.2 578.6,768.0 581.7,753.1 582.3,751.1 582.6,750.7 582.9,750.6 583.2,751.1 583.9,753.2 585.1,761.1 589.4,798.3 590.3,802.6 591.3,804.2 591.9,804.5 592.8,804.6 608.2,804.6 609.8,804.5 610.7,804.0 611.3,803.3 612.2,801.8 614.7,796.5 619.3,785.5 623.4,774.2 624.0,773.1 624.6,772.8 624.9,773.1 625.5,774.3 626.4,777.6 630.4,798.2 631.4,802.0 632.0,803.4 632.6,804.2 633.8,804.6 645.9,804.5 646.8,804.2 647.7,802.6 648.3,800.5 649.3,795.8 657.3,741.6 662.2,701.2 663.2,696.5 663.5,695.9 663.8,695.9 664.4,697.6 665.0,701.3 666.9,718.8 673.0,795.7 674.0,801.8 674.6,803.6 674.9,804.1 675.5,804.5 677.0,804.6 684.1,804.5 684.8,804.2 685.4,803.5 686.3,801.1 688.1,791.7 692.5,764.4 695.2,744.9 698.3,720.5 698.9,717.3 699.3,716.6 699.6,716.6 699.9,717.3 700.5,720.8 701.7,733.6 706.0,794.4 707.0,801.4 707.6,803.4 707.9,804.0 708.5,804.4 710.1,804.6 718.7,804.5 719.3,804.3 719.9,803.8 720.9,801.9 722.7,794.8 727.0,774.2 729.8,759.4 732.9,741.0 733.5,738.6 733.8,738.0 734.1,738.0 734.4,738.6 735.0,741.2 736.0,748.1 740.3,794.2 740.9,799.1 741.8,803.1 742.4,804.1 743.1,804.5 743.7,804.6 756.6,804.6 757.6,804.4 758.2,804.0 759.1,802.3 759.7,800.3 761.6,791.3 767.1,759.0 771.5,729.0 772.1,726.1 772.4,725.5 772.7,725.5 773.0,726.1 773.6,729.2 774.8,740.8 779.2,795.4 780.1,801.7 780.7,803.6 781.0,804.0 781.6,804.5 782.9,804.6 794.6,804.6 795.8,804.1 796.8,802.7 797.7,800.1 798.6,796.4 802.9,776.4 806.0,760.4 809.1,742.4 809.7,740.0 810.0,739.5 810.3,739.5 810.6,740.0 811.3,742.6 812.5,752.1 816.8,797.0 817.7,802.2 818.3,803.7 819.3,804.5 838.7,804.6 839.9,804.4 840.6,803.9 841.5,802.0 842.4,798.1 846.1,773.9 846.7,771.2 847.0,770.6 847.4,770.7 847.7,771.3 848.3,774.5 850.7,797.1 851.4,800.9 852.3,803.7 852.9,804.4 854.1,804.6 867.7,804.6 869.3,804.3 870.2,803.4 870.8,802.4 872.7,797.8 878.2,781.2 882.5,765.8 883.1,764.3 883.5,763.9 883.8,763.9 884.1,764.3 884.7,765.9 885.6,770.1 889.6,796.5 890.5,801.2 891.2,803.1 891.8,804.1 892.4,804.5 893.0,804.6 903.2,804.6 904.7,804.4 905.7,803.8 906.3,802.9 908.1,798.4 913.7,781.3 918.3,764.4 918.9,762.8 919.2,762.5 919.6,762.5 919.9,762.8 920.5,764.5 921.7,770.6 926.0,799.7 927.0,803.0 927.9,804.3 929.4,804.6 942.1,804.6 943.3,804.3 944.2,803.6 945.2,802.3 946.1,800.4 950.4,790.2 953.5,782.1 956.6,772.8 957.2,771.6 957.5,771.4 957.8,771.3 958.1,771.6 958.7,772.9 959.7,776.4 964.0,799.4 964.6,801.8 965.5,803.8 966.1,804.4 967.4,804.6 981.0,804.6 982.8,804.3 983.7,803.4 984.3,802.4 986.2,797.8 991.8,781.2 996.1,765.8 996.7,764.4 997.0,764.0 997.3,764.0 997.6,764.3 998.2,766.0 999.5,771.9 1003.8,799.9 1004.4,802.3 1005.3,804.1"/>
<path stroke="#5B9BD5" stroke-width="4.5" d="M90.5,804.6 91.4,804.4 92.4,803.5 93.3,801.4 93.9,799.0 100.1,762.3 103.2,745.6 105.3,736.2 106.2,734.0 106.9,733.6 107.5,734.3 108.4,737.2 109.9,747.1 111.2,759.3 113.6,790.2 114.6,798.5 115.5,802.8 116.1,804.0 117.0,804.5 126.3,804.5 127.5,804.1 128.5,802.8 129.1,801.2 130.0,797.7 135.2,772.5 138.6,757.9 140.8,750.4 141.7,748.7 142.3,748.4 143.0,748.9 143.6,750.2 144.2,752.4 145.1,757.1 146.7,768.7 149.4,795.7 150.4,801.3 151.0,803.2 151.6,804.1 152.2,804.5 153.1,804.6 163.0,804.5 164.2,804.1 165.2,802.8 165.8,801.3 166.7,798.0 172.0,773.8 175.3,759.8 177.5,752.6 178.4,750.9 179.1,750.6 179.7,751.1 180.6,753.4 182.1,760.9 183.4,770.2 186.1,796.1 186.8,800.0 187.7,803.2 188.3,804.1 189.5,804.6 200.3,804.6 201.9,804.3 202.5,803.7 203.1,802.7 204.4,798.7 210.2,769.3 213.9,752.9 215.8,746.8 216.4,745.8 217.0,745.4 217.6,746.0 218.5,748.4 220.1,756.7 221.3,766.9 224.1,795.3 224.7,799.5 225.3,802.3 226.3,804.1 227.2,804.5 236.7,804.6 238.3,804.4 238.9,803.9 239.5,803.0 240.8,799.0 246.9,762.3 250.0,745.6 252.2,736.2 253.1,734.0 253.7,733.6 254.3,734.3 255.3,737.2 256.8,747.1 258.0,759.3 260.5,790.2 261.4,798.5 262.4,802.8 263.0,804.0 263.6,804.4 265.1,804.6 275.0,804.5 276.2,804.1 277.2,802.8 277.8,801.2 278.7,797.8 284.0,772.9 287.3,758.5 289.5,751.1 290.4,749.4 291.1,749.1 291.7,749.6 292.3,750.9 292.9,753.1 293.8,757.7 295.4,769.2 298.1,795.8 299.1,801.3 299.7,803.2 300.3,804.1 300.9,804.5 301.9,804.6 308.9,804.6 310.2,804.2 311.1,803.2 311.7,801.9 312.7,799.1 317.9,779.3 321.3,767.7 323.4,761.9 324.4,760.5 325.0,760.3 325.6,760.7 326.5,762.5 328.1,768.7 329.3,776.3 332.1,797.6 332.7,800.8 333.6,803.5 334.6,804.4 335.8,804.6 350.3,804.6 351.5,804.5 352.1,804.3 352.8,803.7 353.4,802.6 354.6,798.6 360.5,768.7 364.2,751.9 366.0,745.7 366.6,744.6 367.3,744.3 367.9,744.8 368.8,747.3 370.3,755.8 371.6,766.2 374.4,795.1 375.0,799.4 375.6,802.2 376.5,804.1 377.4,804.5 386.1,804.6 387.9,804.5 388.9,803.9 389.5,802.9 390.7,798.6 396.9,759.6 400.0,741.9 402.1,731.9 403.1,729.5 403.7,729.1 404.3,729.8 404.9,731.6 405.5,734.5 406.4,740.9 408.0,756.5 410.1,785.5 411.1,795.7 412.0,801.6 412.6,803.4 413.2,804.2 413.9,804.5 414.8,804.6 423.1,804.5 424.3,804.0 425.3,802.6 425.9,800.8 426.8,797.0 432.1,769.1 435.4,753.0 437.6,744.8 438.5,742.8 439.2,742.5 439.8,743.1 440.4,744.6 441.0,747.0 441.9,752.2 443.5,765.0 446.2,794.8 447.2,800.9 447.8,803.0 448.4,804.0 449.0,804.4 450.0,804.6 459.5,804.6 461.1,804.2 462.0,803.1 462.6,801.8 463.5,798.9 468.8,778.0 472.2,765.9 474.3,759.7 475.3,758.2 475.9,758.0 476.5,758.4 477.4,760.3 479.0,766.9 480.2,774.9 483.0,797.2 483.6,800.6 484.5,803.4 485.1,804.2 486.4,804.6 499.9,804.5 500.9,804.2 501.8,802.9 503.0,798.6 509.2,759.2 512.3,741.3 514.4,731.2 515.4,728.8 516.0,728.4 516.6,729.1 517.5,732.3 519.1,742.9 520.3,756.0 523.1,792.6 523.7,798.1 524.3,801.6 525.2,803.9 526.2,804.5 536.3,804.5 537.3,804.1 538.2,802.6 539.4,797.6 545.6,751.7 548.7,730.8 550.8,719.1 551.8,716.3 552.1,715.9 552.4,715.8 553.0,716.6 553.9,720.3 555.5,732.8 556.7,748.0 559.2,786.6 560.1,797.0 560.7,801.1 561.3,803.2 562.0,804.2 562.9,804.5 573.1,804.5 573.7,804.3 574.3,803.9 575.2,802.1 575.8,799.9 576.8,795.1 582.0,760.7 585.4,740.7 587.6,730.5 588.5,728.1 589.1,727.7 589.7,728.4 590.6,731.6 592.2,742.3 593.4,755.6 595.9,789.0 596.8,798.0 597.7,802.7 598.4,803.9 599.3,804.5 608.5,804.5 609.8,804.1 610.7,802.8 611.3,801.3 612.2,797.9 617.5,773.4 620.9,759.1 623.0,751.9 624.0,750.2 624.6,749.9 625.2,750.4 626.1,752.7 627.7,760.3 628.9,769.7 631.7,796.0 632.3,799.9 633.2,803.2 634.2,804.3 635.4,804.6 645.3,804.6 646.2,804.4 646.8,803.9 647.4,803.0 648.0,801.4 649.0,797.6 654.8,762.7 658.5,743.2 660.4,736.0 661.0,734.7 661.6,734.3 662.2,735.0 663.2,737.9 664.7,747.7 665.9,759.8 668.4,790.3 669.3,798.6 670.2,802.8 670.9,804.0 671.5,804.4 673.0,804.6 682.0,804.5 683.2,804.0 684.1,802.6 684.8,800.8 685.7,797.0 690.9,769.1 694.3,753.0 696.5,744.8 697.4,742.8 698.0,742.5 698.6,743.1 699.6,745.6 701.1,754.3 702.3,765.0 704.8,792.0 705.7,799.3 706.7,803.0 707.3,804.0 707.9,804.4 709.4,804.6 718.4,804.6 719.6,804.2 720.5,803.1 721.2,801.7 722.1,798.8 727.3,777.6 730.7,765.2 732.9,759.0 733.8,757.5 734.4,757.2 735.0,757.7 735.7,758.8 736.3,760.6 737.2,764.6 738.7,774.4 741.5,797.1 742.4,801.8 743.1,803.4 743.7,804.2 744.3,804.5 745.2,804.6 756.3,804.6 757.9,804.2 758.8,803.2 759.4,801.9 760.3,799.2 765.6,779.7 769.0,768.4 771.1,762.6 772.1,761.2 772.7,761.0 773.3,761.4 774.2,763.2 775.8,769.3 777.0,776.8 779.8,797.7 780.4,800.9 781.3,803.5 781.9,804.2 783.2,804.6 793.0,804.6 794.6,804.3 795.2,803.9 795.8,803.0 797.1,799.6 802.9,775.1 806.6,761.3 808.5,756.2 809.1,755.3 809.7,755.0 810.3,755.5 811.3,757.6 812.8,764.5 814.0,773.0 816.8,796.8 817.4,800.4 818.3,803.4 819.0,804.2 820.2,804.6 831.6,804.6 833.2,804.5 834.1,803.8 834.7,802.8 835.9,798.3 842.1,757.0 845.2,738.2 847.4,727.7 848.3,725.2 848.9,724.7 849.5,725.5 850.4,728.8 852.0,740.0 853.2,753.7 855.7,788.4 856.6,797.8 857.5,802.6 858.2,803.9 858.8,804.4 860.3,804.6 867.4,804.5 868.3,804.0 869.3,802.5 869.9,800.6 870.8,796.5 876.0,767.0 879.4,749.9 881.6,741.2 882.5,739.1 883.1,738.7 883.8,739.3 884.4,740.9 885.0,743.5 885.9,749.0 887.5,762.6 890.2,794.2 891.2,800.7 891.8,802.9 892.4,804.0 893.0,804.4 893.9,804.6 904.1,804.5 905.4,804.1 906.3,802.8 906.9,801.2 907.8,797.7 913.1,772.5 916.5,757.9 918.6,750.4 919.6,748.7 920.2,748.4 920.8,748.9 921.7,751.2 923.3,759.1 924.5,768.7 927.3,795.7 927.9,799.8 928.8,803.2 929.4,804.1 930.7,804.6 941.5,804.6 942.4,804.5 943.0,804.2 943.6,803.5 944.2,802.2 945.5,797.2 951.3,760.5 955.0,740.0 956.9,732.4 957.5,731.1 958.1,730.7 958.7,731.3 959.7,734.4 961.2,744.8 962.4,757.5 965.2,792.9 965.8,798.3 966.8,802.7 967.4,803.9 968.0,804.4 968.6,804.6 981.3,804.5 982.2,804.1 983.1,802.7 984.3,797.8 990.5,753.8 993.6,733.8 995.8,722.6 996.7,719.9 997.3,719.4 997.9,720.2 998.8,723.7 1000.4,735.7 1001.6,750.3 1004.1,787.3 1005.3,799.5"/>
</g>
<g font-size="22.5" fill="#1e1e1e" text-anchor="end">
<text x="67.5" y="812.1">0</text>
<text x="67.5" y="771.4">500</text>
<text x="67.5" y="730.6">1000</text>
<text x="67.5" y="689.9">1500</text>
<text x="67.5" y="649.1">2000</text>
<text x="67.5" y="608.4">2500</text>
<text x="67.5" y="567.6">3000</text>
</g>
<g font-size="23.5" fill="#1e1e1e" text-anchor="middle">
<text x="92.0" y="845.0">1990</text>
<text x="166.2" y="845.0">1992</text>
<text x="240.5" y="845.0">1994</text>
<text x="314.8" y="845.0">1996</text>
<text x="389.0" y="845.0">1998</text>
<text x="463.2" y="845.0">2000</text>
<text x="537.5" y="845.0">2002</text>
<text x="611.8" y="845.0">2004</text>
<text x="686.0" y="845.0">2006</text>
<text x="760.2" y="845.0">2008</text>
<text x="834.5" y="845.0">2010</text>
<text x="908.8" y="845.0">2012</text>
<text x="983.0" y="845.0">2014</text>
</g>
<path d="M180.0,871.8 H234.5" stroke="#002060" stroke-width="4.2" stroke-linecap="round"/>
<text x="239.60" y="878.30" font-size="21.00" fill="#1e1e1e" textLength="94.71" lengthAdjust="spacingAndGlyphs">Observed</text>
<path d="M180.0,899.1 H234.5" stroke="#70AD47" stroke-width="4.2" stroke-linecap="round"/>
<text x="240.00" y="905.60" font-size="21.00" fill="#1e1e1e" textLength="144.86" lengthAdjust="spacingAndGlyphs">EC-Earth3P-HR</text>
<path d="M180.0,926.4 H234.5" stroke="#5B9BD5" stroke-width="4.2" stroke-linecap="round"/>
<text x="240.00" y="932.90" font-size="21.00" fill="#1e1e1e" textLength="247.79" lengthAdjust="spacingAndGlyphs">EC-Earth3P-HR-corrected</text>
<path d="M554.0,871.7 H608.5" stroke="#ED7D31" stroke-width="4.2" stroke-linecap="round"/>
<text x="613.90" y="878.00" font-size="21.00" fill="#1e1e1e" textLength="171.61" lengthAdjust="spacingAndGlyphs">CNRM-CM6-1-HR</text>
<path d="M554.0,899.0 H608.5" stroke="#FFC000" stroke-width="4.2" stroke-linecap="round"/>
<text x="613.90" y="905.20" font-size="21.00" fill="#1e1e1e" textLength="277.70" lengthAdjust="spacingAndGlyphs">CNRM-CM6-1-HR -corrected</text>
</g>
</svg></body></html>
